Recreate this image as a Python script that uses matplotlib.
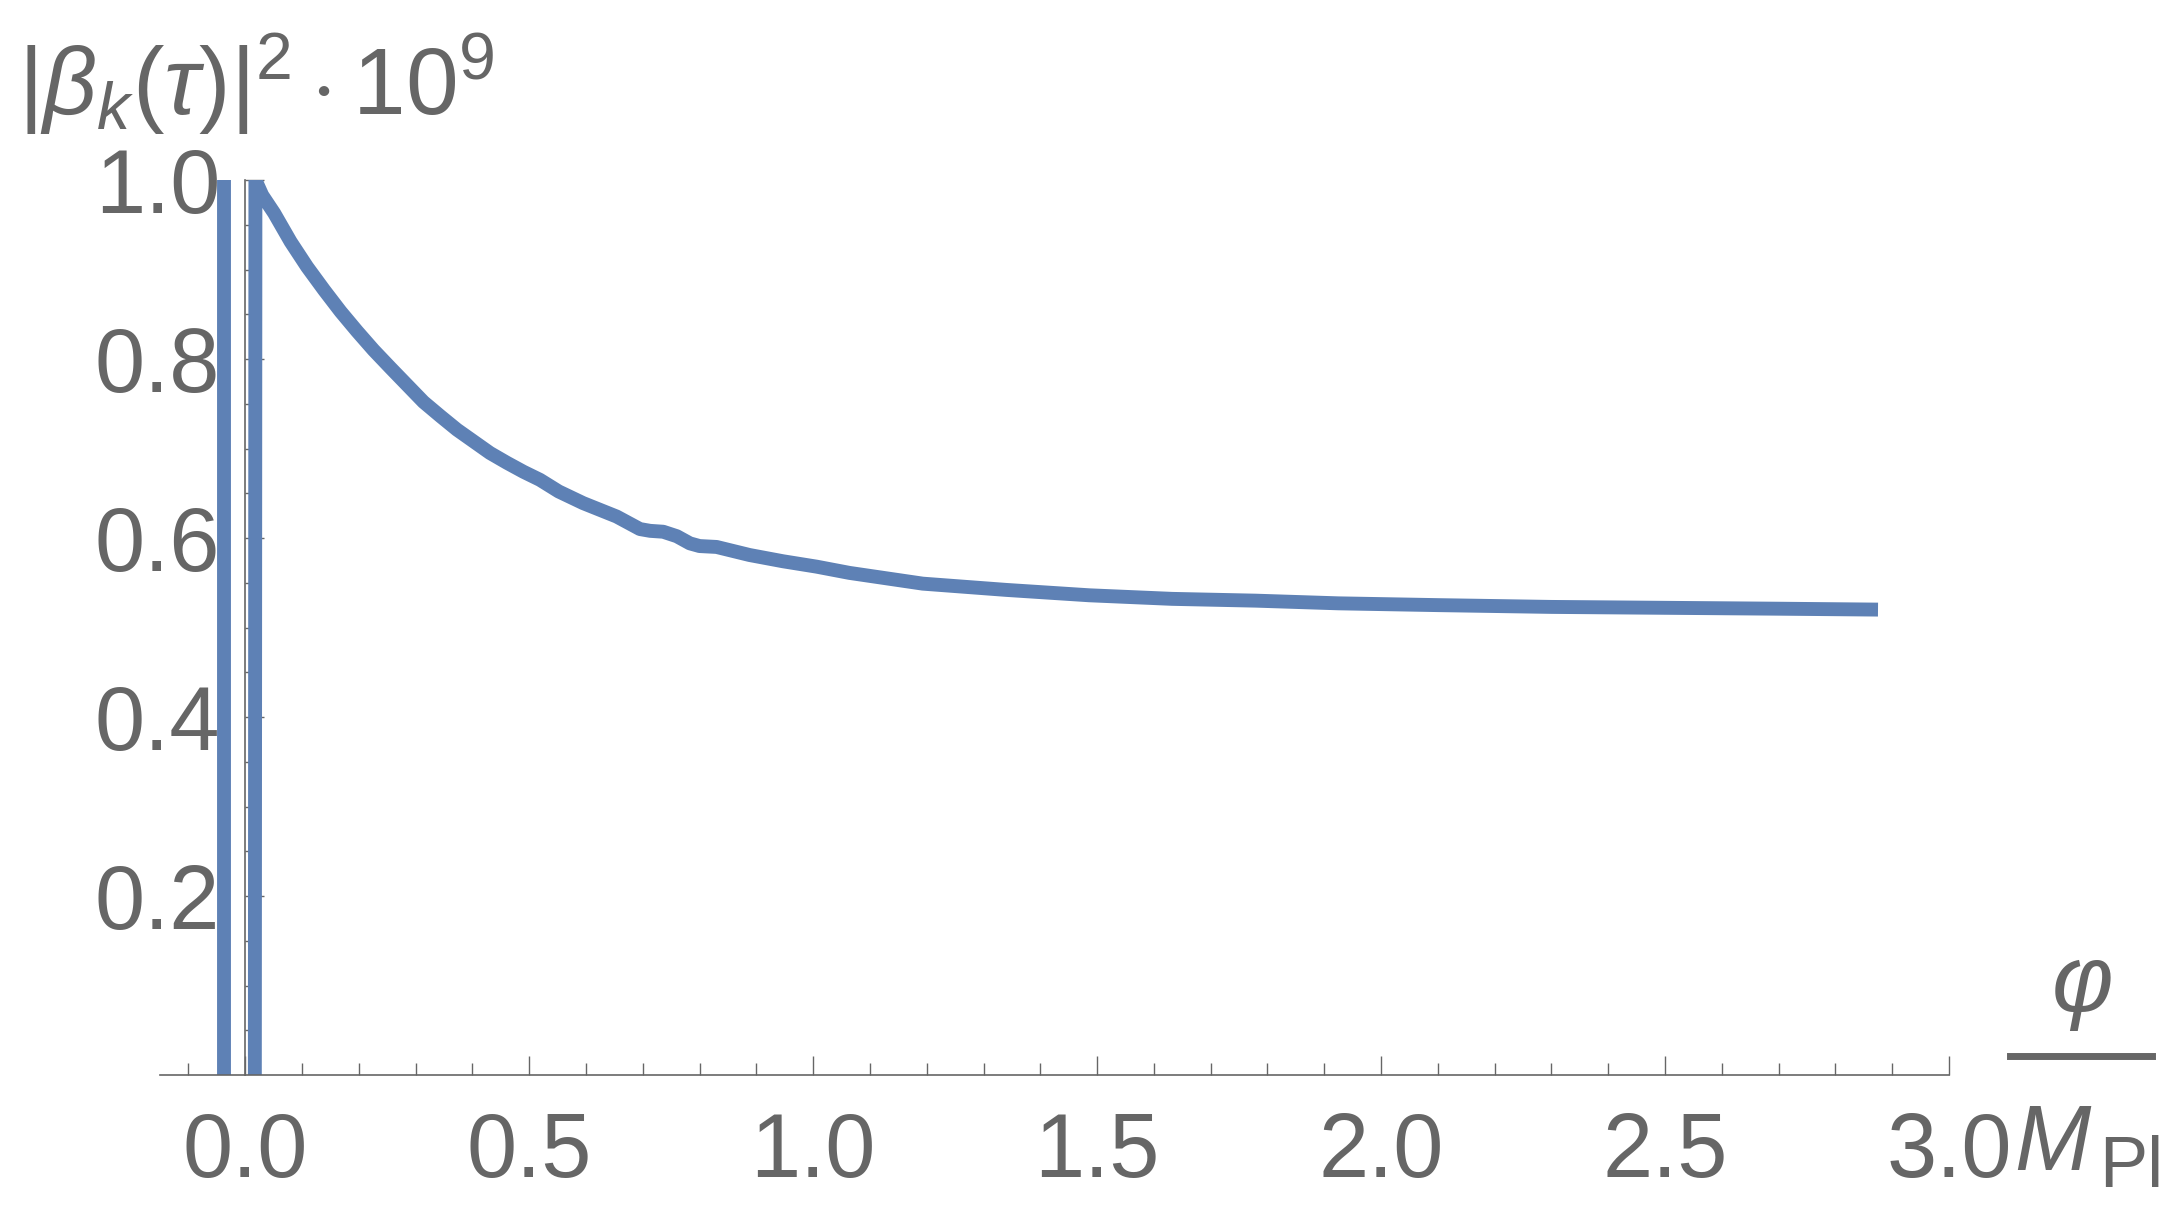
import numpy as np
import matplotlib.pyplot as plt
from matplotlib.lines import Line2D

# |beta_k(tau)|^2 * 1e9 against phi / M_Pl
# left branch: the steep (clipped) rise just left of the origin
phi_left = [-0.038, -0.038]
beta_left = [0.0, 1.0]

# main branch: steep rise, then slow decay with a small kink near 0.75
phi_main = [0.017, 0.018, 0.030, 0.051, 0.080, 0.109, 0.139, 0.168, 0.197,
            0.226, 0.256, 0.285, 0.314, 0.344, 0.373, 0.402, 0.431, 0.461,
            0.490, 0.519, 0.552, 0.595, 0.654, 0.695, 0.713, 0.736, 0.760,
            0.783, 0.800, 0.830, 0.888, 0.947, 1.006, 1.064, 1.193, 1.340,
            1.486, 1.632, 1.779, 1.925, 2.100, 2.300, 2.500, 2.700, 2.875]
beta_main = [0.0, 1.0, 0.983, 0.963, 0.931, 0.903, 0.877, 0.853, 0.831,
             0.810, 0.790, 0.771, 0.752, 0.736, 0.721, 0.708, 0.695, 0.684,
             0.674, 0.665, 0.652, 0.639, 0.624, 0.610, 0.608, 0.607, 0.602,
             0.594, 0.591, 0.590, 0.581, 0.574, 0.568, 0.561, 0.549, 0.542,
             0.536, 0.532, 0.530, 0.527, 0.525, 0.523, 0.522, 0.521, 0.520]

x_major = [0.0, 0.5, 1.0, 1.5, 2.0, 2.5, 3.0]
x_labels = ['0.0', '0.5', '1.0', '1.5', '2.0', '2.5', '3.0']
x_minor = [-0.1, 0.1, 0.2, 0.3, 0.4, 0.6, 0.7, 0.8, 0.9, 1.1, 1.2, 1.3, 1.4,
           1.6, 1.7, 1.8, 1.9, 2.1, 2.2, 2.3, 2.4, 2.6, 2.7, 2.8, 2.9]
y_major = [0.2, 0.4, 0.6, 0.8, 1.0]
y_labels = ['0.2', '0.4', '0.6', '0.8', '1.0']
y_minor = [0.05, 0.1, 0.15, 0.25, 0.3, 0.35, 0.45, 0.5, 0.55, 0.65, 0.7,
           0.75, 0.85, 0.9, 0.95]

gray = '#666666'
blue = '#5E81B5'

plt.rcParams['font.family'] = ['Liberation Sans', 'DejaVu Sans']
plt.rcParams['mathtext.fontset'] = 'custom'
plt.rcParams['mathtext.rm'] = 'Liberation Sans'
plt.rcParams['mathtext.it'] = 'Liberation Sans:italic'
plt.rcParams['mathtext.bf'] = 'Liberation Sans:bold'

W, H = 2184, 1215
fig = plt.figure(figsize=(W / 200, H / 200), dpi=200)
ax = fig.add_axes([160 / W, 1 - 1075 / H, (1949 - 160) / W, (1075 - 180) / H])

ax.plot(phi_left, beta_left, color=blue, lw=5, solid_capstyle='butt')
ax.plot(phi_main, beta_main, color=blue, lw=5, solid_capstyle='butt',
        solid_joinstyle='round')

ax.set_xlim(-0.15, 3.0)
ax.set_ylim(0, 1.0)

# Mathematica-style axes crossing at the origin
for s in ['top', 'right']:
    ax.spines[s].set_visible(False)
ax.spines['left'].set_position(('data', 0))
ax.spines['bottom'].set_position(('data', 0))
for s in ['left', 'bottom']:
    ax.spines[s].set_color(gray)
    ax.spines[s].set_linewidth(0.6)

ax.set_xticks(x_major)
ax.set_xticklabels(x_labels)
ax.set_xticks(x_minor, minor=True)
ax.set_yticks(y_major)
ax.set_yticklabels(y_labels)
ax.set_yticks(y_minor, minor=True)

ax.tick_params(which='both', direction='in', color=gray, width=0.5,
               labelcolor=gray, labelsize=32.5)
ax.tick_params(which='major', length=6.8)
ax.tick_params(which='minor', length=4.3)
ax.tick_params(axis='x', pad=13)
ax.tick_params(axis='y', pad=9)

# y label at the top left
fig.text(18 / W, 1 - 115 / H, r'$|\beta_k(\tau)|^2\cdot 10^9$',
         fontsize=34, color=gray, va='baseline', ha='left')

# x label as a fraction phi / M_Pl at the right end
fig.text(2083 / W, 1 - 1011 / H, 'φ', style='italic', fontsize=34,
         color=gray, ha='center', va='baseline')
fig.add_artist(Line2D([2010 / W, 2152 / W], [1 - 1055.5 / H] * 2,
                      color=gray, lw=2.5, transform=fig.transFigure))
fig.text(2014 / W, 1 - 1170 / H, 'M', style='italic', fontsize=33,
         color=gray, ha='left', va='baseline')
fig.text(2099 / W, 1 - 1187 / H, 'Pl', fontsize=26,
         color=gray, ha='left', va='baseline')

fig.savefig('out.png', dpi=200)
